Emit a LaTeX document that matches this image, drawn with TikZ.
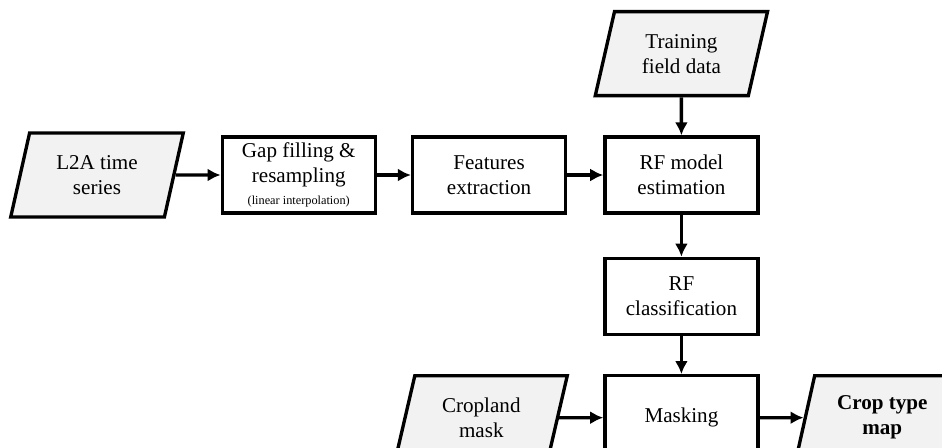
\documentclass[tikz,border=0pt]{standalone}
\usepackage{fontspec}
\setmainfont{Liberation Serif}
\usepackage{xcolor}
\usetikzlibrary{arrows.meta,positioning,shapes.geometric}
\definecolor{datagray}{HTML}{F2F2F2}
\tikzset{
  node/.style={draw, line width=1.9pt, align=center, inner sep=2pt, fill=white,
    font=\fontsize{12}{14.2}\selectfont},
  process/.style={node, minimum width=3.06cm, minimum height=1.52cm},
  datastore/.style={node, trapezium, trapezium left angle=75, trapezium right angle=105,
    trapezium stretches=true, minimum width=3.46cm, minimum height=1.68cm, fill=datagray},
  line/.style={-{Latex[length=2.6mm,width=2.6mm]}, line width=1.9pt}
}
\begin{document}
\begin{tikzpicture}
  \useasboundingbox (0,0) rectangle (18.84,-8.94);
  \node[datastore] (l2a) at (1.94,-3.5) {L2A time\\series};
  \node[process, right=0.9cm of l2a] (gap) {Gap filling \&\\resampling\\[-2pt]{\fontsize{7}{8}\selectfont (linear interpolation)}};
  \node[process, right=0.68cm of gap] (feat) {Features\\extraction};
  \node[process, right=0.72cm of feat] (rfm) {RF model\\estimation};
  \node[datastore, above=0.76cm of rfm] (train) {Training\\field data};
  \node[process, below=0.84cm of rfm] (rfc) {RF\\classification};
  \node[process, below=0.76cm of rfc, minimum height=1.68cm] (mask) {Masking};
  \node[datastore, left=0.88cm of mask] (crop) {Cropland\\mask};
  \node[datastore, right=0.88cm of mask] (map) {\textbf{Crop type}\\\textbf{map}};

  \draw[line] (l2a) -- (gap);
  \draw[line] (gap) -- (feat);
  \draw[line] (feat) -- (rfm);
  \draw[line] (train) -- (rfm);
  \draw[line] (rfm) -- (rfc);
  \draw[line] (rfc) -- (mask);
  \draw[line] (crop) -- (mask);
  \draw[line] (mask) -- (map);
\end{tikzpicture}
\end{document}
